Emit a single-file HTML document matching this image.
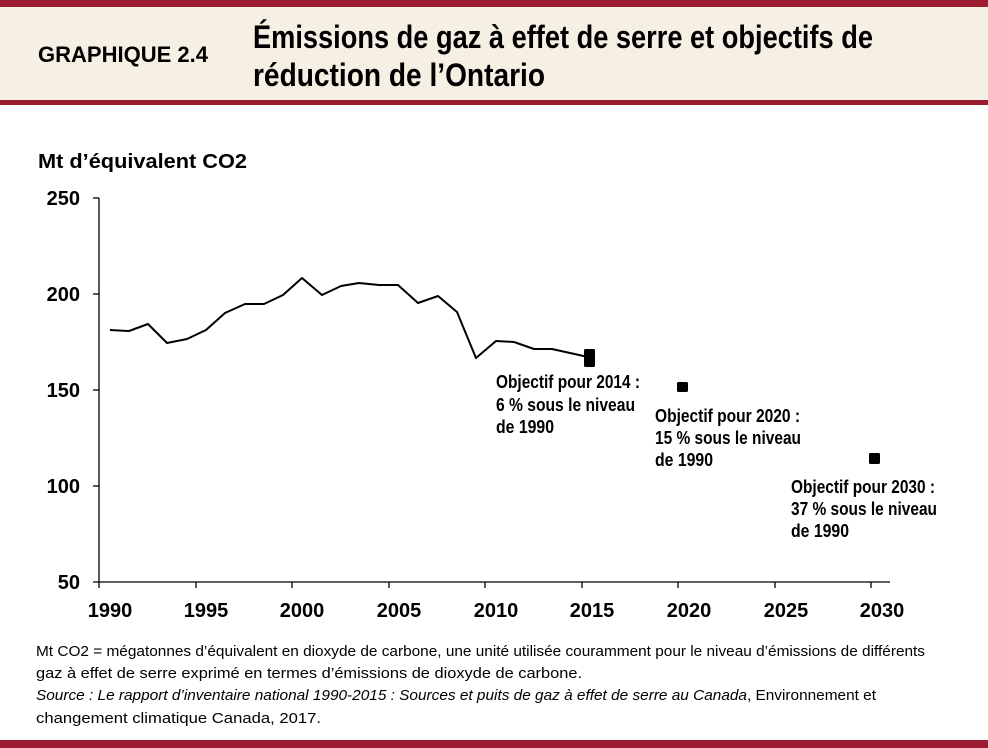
<!DOCTYPE html>
<html><head><meta charset="utf-8"><style>
html,body{margin:0;padding:0;background:#fff}
svg{display:block}
text{font-family:"Liberation Sans Narrow","Liberation Sans",sans-serif;fill:#000}
.b{font-weight:bold}
</style></head><body>
<svg width="988" height="748" viewBox="0 0 988 748" xmlns="http://www.w3.org/2000/svg">
<rect x="0" y="0" width="988" height="100" fill="#f5efe4"/>
<rect x="0" y="0" width="988" height="7" fill="#9b1b30"/>
<rect x="0" y="100" width="988" height="5" fill="#9b1b30"/>
<rect x="0" y="740" width="988" height="8" fill="#9b1b30"/>

<text class="b" x="38" y="62" font-size="22" textLength="170" lengthAdjust="spacingAndGlyphs">GRAPHIQUE 2.4</text>
<text class="b" x="253" y="48" font-size="32" textLength="620" lengthAdjust="spacingAndGlyphs">Émissions de gaz à effet de serre et objectifs de</text>
<text class="b" x="253" y="86" font-size="32" textLength="292" lengthAdjust="spacingAndGlyphs">réduction de l’Ontario</text>

<text class="b" x="38" y="168" font-size="20" textLength="209" lengthAdjust="spacingAndGlyphs">Mt d’équivalent CO2</text>

<g class="b" font-size="20" text-anchor="end">
<text x="80" y="205">250</text>
<text x="80" y="301">200</text>
<text x="80" y="397">150</text>
<text x="80" y="493">100</text>
<text x="80" y="589">50</text>
</g>
<g stroke="#000" stroke-width="1.3" fill="none">
<line x1="99" y1="198" x2="99" y2="582"/>
<line x1="93" y1="582" x2="890" y2="582"/>
<line x1="93" y1="198" x2="99" y2="198"/>
<line x1="93" y1="294" x2="99" y2="294"/>
<line x1="93" y1="390" x2="99" y2="390"/>
<line x1="93" y1="486" x2="99" y2="486"/>
<line x1="99" y1="582" x2="99" y2="588"/>
<line x1="196" y1="582" x2="196" y2="588"/>
<line x1="292" y1="582" x2="292" y2="588"/>
<line x1="389" y1="582" x2="389" y2="588"/>
<line x1="485" y1="582" x2="485" y2="588"/>
<line x1="582" y1="582" x2="582" y2="588"/>
<line x1="678" y1="582" x2="678" y2="588"/>
<line x1="775" y1="582" x2="775" y2="588"/>
<line x1="871" y1="582" x2="871" y2="588"/>
</g>
<g class="b" font-size="20" text-anchor="middle">
<text x="110" y="617">1990</text>
<text x="206" y="617">1995</text>
<text x="302" y="617">2000</text>
<text x="399" y="617">2005</text>
<text x="496" y="617">2010</text>
<text x="592" y="617">2015</text>
<text x="689" y="617">2020</text>
<text x="786" y="617">2025</text>
<text x="882" y="617">2030</text>
</g>

<polyline fill="none" stroke="#000" stroke-width="2" stroke-linejoin="round" points="110,330 129,331 148,324 167,343 187,339 206,330 225,313 245,304 264,304 283,295 302,278 322,295 341,286 359,283 379,285 398,285 418,303 438,296 457,312 476,358 496,341 514,342 534,349 552,349 570,353 588,357"/>
<rect x="584" y="349" width="11" height="18" rx="1.5" fill="#000"/>
<rect x="677" y="382" width="11" height="10" rx="1.5" fill="#000"/>
<rect x="869" y="453" width="11" height="11" rx="1.5" fill="#000"/>

<g class="b" font-size="18">
<text x="496" y="388" textLength="144" lengthAdjust="spacingAndGlyphs">Objectif pour 2014 :</text>
<text x="496" y="411" textLength="139" lengthAdjust="spacingAndGlyphs">6 % sous le niveau</text>
<text x="496" y="433" textLength="58" lengthAdjust="spacingAndGlyphs">de 1990</text>
<text x="655" y="422" textLength="145" lengthAdjust="spacingAndGlyphs">Objectif pour 2020 :</text>
<text x="655" y="444" textLength="146" lengthAdjust="spacingAndGlyphs">15 % sous le niveau</text>
<text x="655" y="466" textLength="58" lengthAdjust="spacingAndGlyphs">de 1990</text>
<text x="791" y="493" textLength="144" lengthAdjust="spacingAndGlyphs">Objectif pour 2030 :</text>
<text x="791" y="515" textLength="146" lengthAdjust="spacingAndGlyphs">37 % sous le niveau</text>
<text x="791" y="537" textLength="58" lengthAdjust="spacingAndGlyphs">de 1990</text>
</g>

<g font-size="15">
<text x="36" y="656" textLength="889" lengthAdjust="spacingAndGlyphs">Mt CO2 = mégatonnes d’équivalent en dioxyde de carbone, une unité utilisée couramment pour le niveau d’émissions de différents</text>
<text x="36" y="678" textLength="546" lengthAdjust="spacingAndGlyphs">gaz à effet  de serre exprimé en termes d’émissions de dioxyde de carbone.</text>
<text x="36" y="700" textLength="840" lengthAdjust="spacingAndGlyphs"><tspan font-style="italic">Source : Le rapport d’inventaire national 1990-2015 : Sources et puits de gaz à effet de serre au Canada</tspan>, Environnement et</text>
<text x="36" y="723" textLength="285" lengthAdjust="spacingAndGlyphs">changement climatique Canada, 2017.</text>
</g>
</svg>
</body></html>
